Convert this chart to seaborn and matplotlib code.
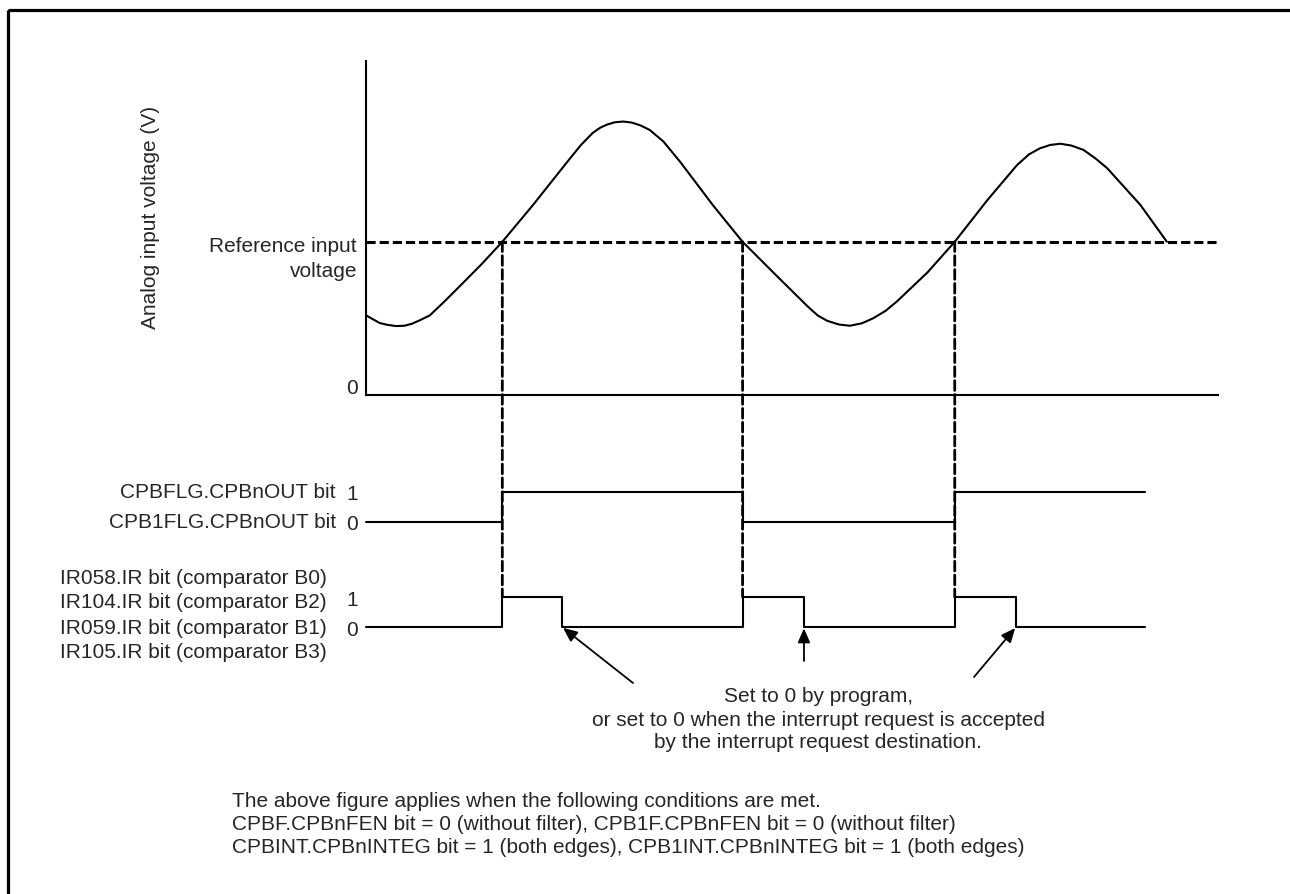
import matplotlib.pyplot as plt
import seaborn as sns
import pandas as pd
from matplotlib.patches import ConnectionPatch, Rectangle

# analog input waveform
# (time in arbitrary units, voltage relative to the reference input voltage = 1.0)
wave_time = [0.0, 1.6, 2.5, 3.5, 4.5, 5.4, 6.4, 7.5, 9.2, 11.0, 13.5, 16.0,
             19.6, 23.6, 25.2, 26.6, 27.5, 28.3, 29.2, 30.2, 31.2, 32.2, 33.3,
             34.9, 36.9, 40.7, 44.2, 47.8, 51.8, 53.0, 54.1, 55.5, 56.8, 58.2,
             59.5, 61.0, 62.3, 65.9, 69.1, 72.9, 76.4, 77.8, 79.1, 80.3, 81.5,
             82.8, 84.2, 85.6, 87.0, 90.9, 94.0]
wave_volt = [0.52, 0.47, 0.458, 0.45, 0.452, 0.465, 0.49, 0.52, 0.61, 0.71, 0.85, 1.00,
             1.24, 1.52, 1.63, 1.71, 1.745, 1.765, 1.78, 1.785, 1.778, 1.76, 1.73,
             1.655, 1.52, 1.24, 1.00, 0.80, 0.58, 0.52, 0.485, 0.46, 0.452, 0.468,
             0.50, 0.55, 0.61, 0.80, 1.00, 1.27, 1.50, 1.57, 1.61, 1.632, 1.64,
             1.628, 1.60, 1.545, 1.48, 1.24, 1.00]
ref_volt = 1.0
volt_top = 2.18
time_end = 100

# comparator output flag and interrupt request bits
cross_times = [16.0, 44.2, 69.1]
clear_times = [23.0, 51.4, 76.3]
cpb_time = [0, 16.0, 44.2, 69.1, 91.4]
cpb_level = [0, 1, 0, 1, 1]
ir_time = [0, 16.0, 23.0, 44.2, 51.4, 69.1, 76.3, 91.4]
ir_level = [0, 1, 0, 1, 0, 1, 0, 0]

ylabel = 'Analog input voltage (V)'
ref_label = ['Reference input', 'voltage']
cpb_labels = ['CPBFLG.CPBnOUT bit', 'CPB1FLG.CPBnOUT bit']
ir_labels = ['IR058.IR bit (comparator B0)', 'IR104.IR bit (comparator B2)',
             'IR059.IR bit (comparator B1)', 'IR105.IR bit (comparator B3)']
note_lines = ['Set to 0 by program,',
              'or set to 0 when the interrupt request is accepted',
              'by the interrupt request destination.']
cond_lines = ['The above figure applies when the following conditions are met.',
              'CPBF.CPBnFEN bit = 0 (without filter), CPB1F.CPBnFEN bit = 0 (without filter)',
              'CPBINT.CPBnINTEG bit = 1 (both edges), CPB1INT.CPBnINTEG bit = 1 (both edges)']

sns.set_style('white')
plt.rcParams['font.family'] = ['Liberation Sans', 'DejaVu Sans']
FS = 15

W, H = 1290, 895
fig = plt.figure(figsize=(W / 100, H / 100), dpi=100)


def box(left, top, right, bottom):
    return [left / W, 1 - bottom / H, (right - left) / W, (bottom - top) / H]


# background axes in pixel units for the frame and free text
bg = fig.add_axes([0, 0, 1, 1])
bg.set_xlim(0, W)
bg.set_ylim(H, 0)
bg.axis('off')
bg.add_patch(Rectangle((8, 11), 1500, 1000, fill=False, lw=2.3, ec='black'))

# analog voltage panel
ax_v = fig.add_axes(box(366, 62, 1218, 396))
wave = pd.DataFrame({'time': wave_time, 'volt': wave_volt})
sns.lineplot(data=wave, x='time', y='volt', ax=ax_v, color='black', lw=1.5,
             estimator=None, solid_joinstyle='round')
ax_v.axhline(ref_volt, color='black', lw=2.2, dashes=(3, 1.3))
ax_v.set_xlim(0, time_end)
ax_v.set_ylim(0, volt_top)
ax_v.set_xticks([])
ax_v.set_yticks([])
ax_v.set_xlabel('')
ax_v.set_ylabel('')
ax_v.patch.set_alpha(0)
sns.despine(ax=ax_v)
for s in ['left', 'bottom']:
    ax_v.spines[s].set_linewidth(1.5)
    ax_v.spines[s].set_color('black')


# digital rows
def digital_row(top, bottom, times, levels):
    ax = fig.add_axes(box(366, top, 1218, bottom))
    df = pd.DataFrame({'time': times, 'level': levels})
    sns.lineplot(data=df, x='time', y='level', ax=ax, color='black', lw=1.5,
                 estimator=None, drawstyle='steps-post', clip_on=False)
    ax.set_xlim(0, time_end)
    ax.set_ylim(0, 1)
    ax.set_xticks([])
    ax.set_yticks([0, 1])
    ax.set_yticklabels(['0', '1'], fontsize=FS)
    ax.tick_params(axis='y', length=0, pad=6)
    ax.set_xlabel('')
    ax.set_ylabel('')
    ax.patch.set_alpha(0)
    sns.despine(ax=ax, left=True, bottom=True)
    return ax


ax_c = digital_row(493, 523, cpb_time, cpb_level)
ax_i = digital_row(598, 628, ir_time, ir_level)

# dashed guides from the reference crossings down to the IR bits
for t in cross_times:
    con = ConnectionPatch(xyA=(t, ref_volt), coordsA=ax_v.transData,
                          xyB=(t, 1), coordsB=ax_i.transData,
                          color='black', lw=2.0, linestyle=(0, (3.5, 1.5)))
    fig.add_artist(con)

# arrows to the clearing edges
tails = [(633, 684), (804, 662), (974, 678)]
for t, tail in zip(clear_times, tails):
    ax_i.annotate('', xy=(t, 0), xycoords='data', xytext=tail, textcoords=bg.transData,
                  annotation_clip=False,
                  arrowprops=dict(arrowstyle='-|>,head_length=0.5,head_width=0.22',
                                  mutation_scale=17, lw=1.3, color='black',
                                  shrinkA=0, shrinkB=1))

# texts
bg.text(150, 217, ylabel, rotation=90, ha='center', va='center', fontsize=FS)
bg.text(357, 246, ref_label[0], ha='right', va='center', fontsize=FS)
bg.text(357, 271, ref_label[1], ha='right', va='center', fontsize=FS)
bg.text(358, 388, '0', ha='right', va='center', fontsize=FS)
for lab, y in zip(cpb_labels, [493, 522]):
    bg.text(336, y, lab, ha='right', va='center', fontsize=FS)
for lab, y in zip(ir_labels, [578, 603, 628, 653]):
    bg.text(60, y, lab, ha='left', va='center', fontsize=FS)
for line, y in zip(note_lines, [697, 720, 743]):
    bg.text(818, y, line, ha='center', va='center', fontsize=FS)
for line, y in zip(cond_lines, [802, 825, 848]):
    bg.text(232, y, line, ha='left', va='center', fontsize=FS)

fig.savefig('out.png', dpi=100)
